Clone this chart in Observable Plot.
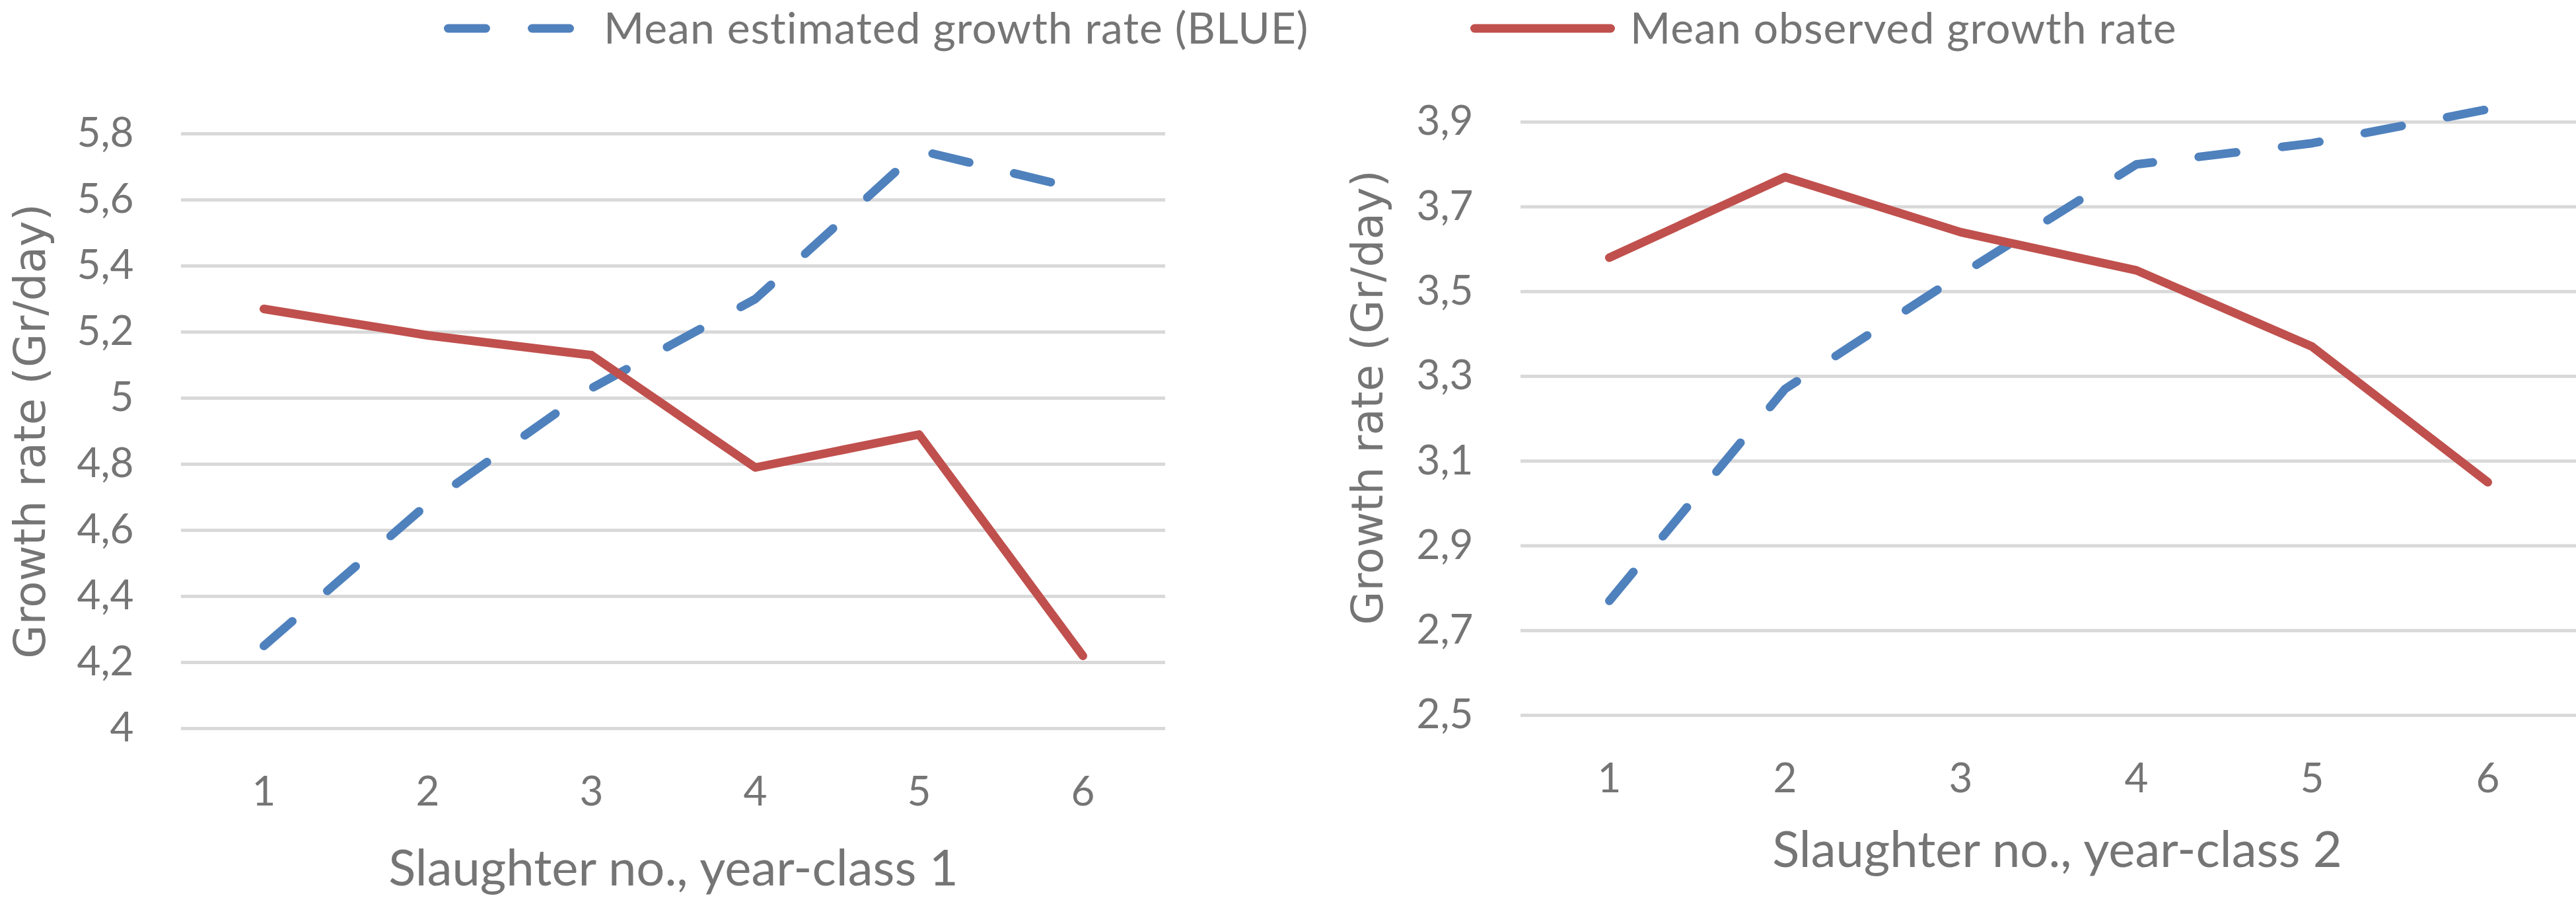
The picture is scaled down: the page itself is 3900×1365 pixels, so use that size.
<!DOCTYPE html>
<html>
<head>
<meta charset="utf-8">
<script src="https://cdn.jsdelivr.net/npm/d3@7"></script>
<script src="https://cdn.jsdelivr.net/npm/@observablehq/plot@0.6"></script>
<style>
html, body { margin: 0; padding: 0; background: #ffffff; }
#wrap { position: relative; width: 3900px; height: 1365px; overflow: hidden; background: #ffffff; }
#wrap > svg, #wrap > figure { position: absolute; margin: 0; }
</style>
</head>
<body>
<div id="wrap"></div>
<script>
// ---------- data ----------
const slaughter = [1, 2, 3, 4, 5, 6];
const estimatedYC1 = [4.25, 4.68, 5.03, 5.30, 5.75, 5.63];
const observedYC1  = [5.27, 5.19, 5.13, 4.79, 4.89, 4.22];
const estimatedYC2 = [2.77, 3.27, 3.54, 3.80, 3.85, 3.93];
const observedYC2  = [3.58, 3.77, 3.64, 3.55, 3.37, 3.05];
const yTicksYC1 = [4, 4.2, 4.4, 4.6, 4.8, 5, 5.2, 5.4, 5.6, 5.8];
const yTicksYC2 = [2.5, 2.7, 2.9, 3.1, 3.3, 3.5, 3.7, 3.9];
const seriesNames = ["Mean estimated growth rate (BLUE)", "Mean observed growth rate"];
const xTitles = ["Slaughter no., year-class 1", "Slaughter no., year-class 2"];
const yTitle = "Growth rate (Gr/day)";

// ---------- styles ----------
const seriesColors = ["#4F81BD", "#C0504D"];
const textColor = "#757575";
const gridColor = "#d9d9d9";
const mainFont = "Lato, 'Liberation Sans', sans-serif";
const titleFont = "'DejaVu Sans', Verdana, sans-serif";
const dash = "57,70";
const fmt = d => d.toFixed(Number.isInteger(d) ? 0 : 1).replace(".", ",");

const wrap = document.getElementById("wrap");

function chart(cfg) {
  const p = Plot.plot({
    width: cfg.width,
    height: 1365,
    marginLeft: cfg.ml,
    marginRight: cfg.mr,
    marginTop: cfg.mt,
    marginBottom: cfg.mb,
    style: { fontFamily: mainFont, color: textColor, background: "transparent", overflow: "visible" },
    x: { type: "point", domain: slaughter, padding: 0.5 },
    y: { domain: cfg.yDomain },
    marks: [
      Plot.gridY(cfg.yTicks, { stroke: gridColor, strokeOpacity: 1, strokeWidth: 5 }),
      Plot.axisY(cfg.yTicks, { tickSize: 0, tickPadding: 72, tickFormat: fmt, fontSize: 62, label: null, fill: textColor }),
      Plot.axisX(slaughter, { tickSize: 0, tickPadding: 72, fontSize: 62, label: null, fill: textColor }),
      Plot.line(slaughter, {
        x: d => d, y: (d, i) => cfg.est[i],
        stroke: seriesColors[0], strokeWidth: 13, strokeDasharray: dash,
        strokeLinecap: "round", strokeLinejoin: "round"
      }),
      Plot.line(slaughter, {
        x: d => d, y: (d, i) => cfg.obs[i],
        stroke: seriesColors[1], strokeWidth: 13,
        strokeLinecap: "round", strokeLinejoin: "round"
      }),
      Plot.text([cfg.xTitle], {
        text: d => d, frameAnchor: "bottom", textAnchor: "middle", lineAnchor: "middle",
        dx: cfg.xdx, dy: cfg.xdy, fontSize: 76, fill: textColor
      }),
      Plot.text([yTitle], {
        text: d => d, frameAnchor: "left", textAnchor: "middle", lineAnchor: "middle",
        rotate: -90, dx: cfg.ydx, fontSize: 66, fontFamily: titleFont, fill: textColor
      })
    ]
  });
  p.style.left = cfg.left + "px";
  p.style.top = "0px";
  wrap.appendChild(p);
}

chart({
  width: 1950, left: 0, ml: 274, mr: 186, mt: 202, mb: 263,
  yDomain: [4, 5.8], yTicks: yTicksYC1, est: estimatedYC1, obs: observedYC1,
  xTitle: xTitles[0], xdx: 0, xdy: 213, ydx: -228
});
chart({
  width: 1950, left: 1950, ml: 352, mr: 0, mt: 120, mb: 283,
  yDomain: [2.5, 4.0], yTicks: yTicksYC2, est: estimatedYC2, obs: observedYC2,
  xTitle: xTitles[1], xdx: 13, xdy: 205, ydx: -231
});

// ---------- legend ----------
const legendX = [672, 2226];
const legend = d3.select(wrap).append("svg")
  .attr("width", 3900).attr("height", 120)
  .style("left", "0px").style("top", "0px");
seriesNames.forEach((name, i) => {
  const g = legend.append("g").attr("transform", `translate(${legendX[i]},0)`);
  g.append("line")
    .attr("x1", 6.5).attr("x2", 212.5).attr("y1", 43).attr("y2", 43)
    .attr("stroke", seriesColors[i]).attr("stroke-width", 13)
    .attr("stroke-linecap", "round")
    .attr("stroke-dasharray", i === 0 ? dash : null);
  g.append("text")
    .attr("x", 242).attr("y", 66)
    .attr("font-family", mainFont).attr("font-size", 66)
    .attr("letter-spacing", 1)
    .attr("fill", textColor)
    .text(name);
});
</script>
</body>
</html>
